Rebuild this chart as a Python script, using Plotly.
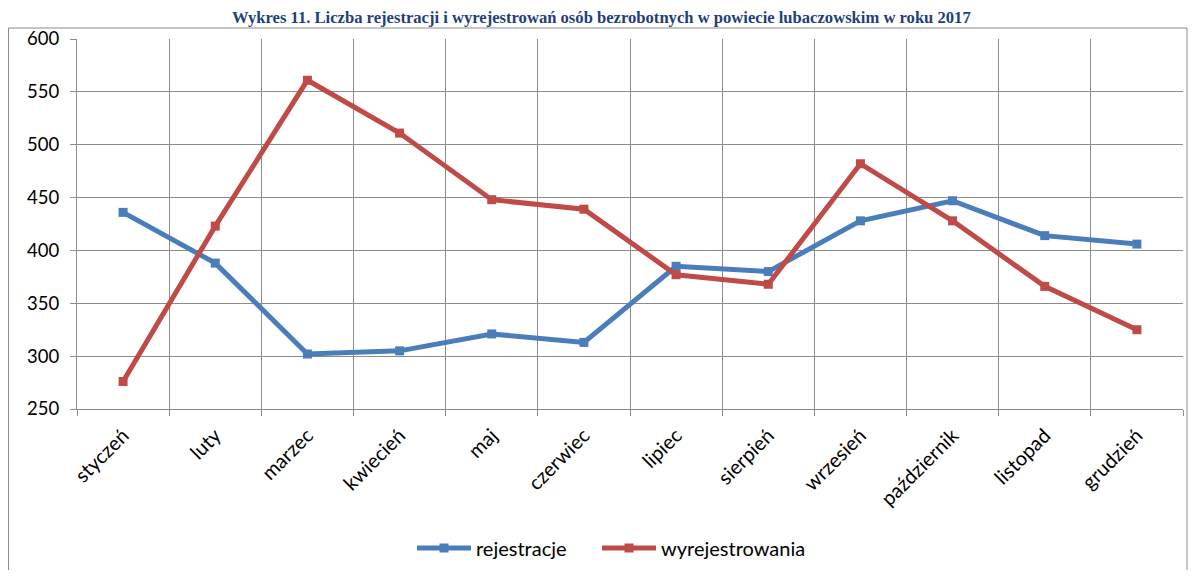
import plotly.graph_objects as go

months = ["styczeń", "luty", "marzec", "kwiecień", "maj", "czerwiec", "lipiec",
          "sierpień", "wrzesień", "październik", "listopad", "grudzień"]
rejestracje = [436, 388, 302, 305, 321, 313, 385, 380, 428, 447, 414, 406]
wyrejestrowania = [276, 423, 561, 511, 448, 439, 377, 368, 482, 428, 366, 325]
title_text = "Wykres 11. Liczba rejestracji i wyrejestrowań osób bezrobotnych w powiecie lubaczowskim w roku 2017"

font_family = "Lato, Open Sans, sans-serif"

fig = go.Figure()
fig.add_trace(go.Scatter(x=months, y=rejestracje, name="rejestracje", mode="lines+markers",
                         line=dict(color="#4A7EBB", width=5), legend="legend",
                         marker=dict(symbol="square", size=9, color="#4A7EBB")))
fig.add_trace(go.Scatter(x=months, y=wyrejestrowania, name="wyrejestrowania", mode="lines+markers",
                         line=dict(color="#BE4B48", width=5), legend="legend2",
                         marker=dict(symbol="square", size=9, color="#BE4B48")))

# page has an 8px body margin; figure coordinates below are page coords minus 8
W, H = 1181, 562
L, T = 69, 31
R = W - 1175
B = H - 401
pw = W - L - R
ph = H - T - B

def px(x):
    return (x - L) / pw

def py(y):
    return (T + ph - y) / ph

legend_common = dict(orientation="h", xanchor="left", y=py(540), yanchor="middle",
                     font=dict(size=20, family=font_family), itemwidth=54,
                     bgcolor="rgba(0,0,0,0)")

fig.update_layout(
    width=W, height=H,
    margin=dict(l=L, r=R, t=T, b=B, autoexpand=False),
    paper_bgcolor="white", plot_bgcolor="white",
    font=dict(family=font_family, size=15, color="black"),
    showlegend=True,
    legend=dict(x=px(404), **legend_common),
    legend2=dict(x=px(589), **legend_common),
    xaxis=dict(type="category", range=[-0.5, 11.5], tickson="boundaries", showgrid=True,
               gridcolor="#8C8C8C", gridwidth=1, showline=True, linecolor="#8C8C8C", linewidth=1,
               ticks="outside", ticklen=6, tickcolor="#8C8C8C", tickangle=-45,
               ticklabelstandoff=6,
               tickfont=dict(size=20, family=font_family), zeroline=False, automargin=False),
    yaxis=dict(range=[250, 600], dtick=50, showgrid=True, gridcolor="#8C8C8C", gridwidth=1,
               showline=True, linecolor="#8C8C8C", linewidth=1, ticks="outside", ticklen=6,
               tickcolor="#8C8C8C", ticklabelstandoff=7,
               tickfont=dict(size=18.5, family=font_family), zeroline=False,
               automargin=False),
    annotations=[dict(text="<b>" + title_text + "</b>", xref="paper", yref="paper",
                      x=px(593), y=py(10), xanchor="center", yanchor="middle",
                      showarrow=False,
                      font=dict(family="Liberation Serif, Times New Roman, serif", size=16.6,
                                color="#1F3F7A"))],
    shapes=[dict(type="rect", xref="paper", yref="paper",
                 x0=px(0.5), x1=px(1179),
                 y0=py(H + 20), y1=py(20),
                 line=dict(color="#8C8C8C", width=1), fillcolor="rgba(0,0,0,0)", layer="below")],
)

fig.write_html("out.html")
